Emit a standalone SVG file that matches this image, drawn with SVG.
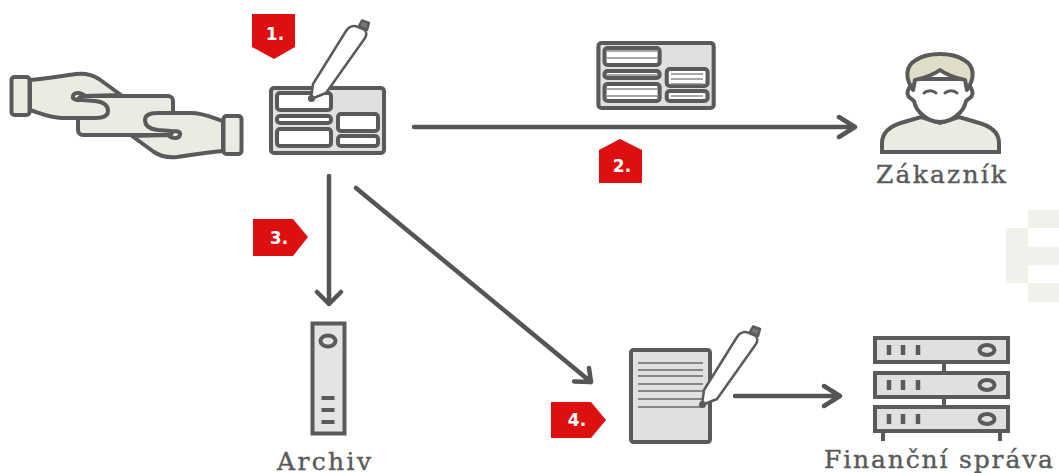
<svg xmlns="http://www.w3.org/2000/svg" xmlns:xlink="http://www.w3.org/1999/xlink" width="1059" height="473" viewBox="0 0 1059 473">
<style>
.o{stroke:#5a5a5a;stroke-width:4;stroke-linejoin:round;stroke-linecap:round}
.w{fill:#fff}.g{fill:#e0e0e0}.b{fill:#ebebe3}
.c{fill:none;stroke:#555;stroke-width:4.500;stroke-linecap:round;stroke-linejoin:round}
.l{stroke:#8a8a8a;stroke-width:1.300;fill:none}
.d{stroke:#6a6a6a;stroke-width:1.500;fill:none}
.t{font-family:"DejaVu Serif",serif;font-size:25px;fill:#5a5a5a;stroke:#5a5a5a;stroke-width:.4}
.n{font-family:"DejaVu Sans",sans-serif;font-weight:bold;font-size:17px;fill:#fff;text-anchor:middle}
.r{fill:#dd0f0f}
</style>
<defs>
<g id="form">
<rect class="o g" x="271" y="88" width="113" height="65" rx="3"/>
<rect class="o w" x="277" y="93" width="54" height="17" rx="3"/>
<rect class="o w" x="277" y="116" width="54" height="7" rx="3"/>
<rect class="o w" x="277" y="129" width="54" height="17" rx="3"/>
<rect class="o w" x="338" y="114" width="40" height="17" rx="3"/>
<rect class="o w" x="338" y="136" width="40" height="10" rx="3"/>
</g>
<g id="pen">
<path d="M311 99 L313 84 L346 31 C349 26 354 25 358 27 L363 29 C367 31 367 35 365 38 L326 93 Z" fill="#fff" stroke="#5a5a5a" stroke-width="2.500" stroke-linejoin="round"/>
<path d="M359 26 L362 20.500 L369 23 L367 30 Z" fill="#777" stroke="#5a5a5a" stroke-width="2.500" stroke-linejoin="round"/>
<circle cx="311.500" cy="98.500" r="3.500" fill="#5a5a5a"/>
</g>
<path id="hand" class="o b" d="M30 80 C45 79 60 76 76 74 C86 73 93 75 99 79 L121 95 L85 96 C81 92 74 92 73 96 C72 100 77 100 82 100 L95 101 C105 102 108 106 108 111 C108 116 103 118 95 118 L62 118 C50 118 42 114 30 110 Z"/>
<rect id="cuff" class="o b" x="11.500" y="77" width="18" height="38" rx="3"/>
<g id="unit">
<rect class="o g" style="stroke-linejoin:miter" x="875" y="338" width="133" height="24"/>
<path d="M889 345V355M903 345V355M918 345V355" fill="none" stroke="#5a5a5a" stroke-width="4.500"/>
<ellipse cx="987" cy="350" rx="7.500" ry="5" fill="none" stroke="#5a5a5a" stroke-width="4"/>
</g>
</defs>

<g id="watermark" fill="#f1f1eb">
<rect x="1028" y="210" width="31" height="18"/>
<rect x="1006" y="228" width="22" height="55"/>
<rect x="1028" y="247" width="31" height="18"/>
<rect x="1028" y="283" width="31" height="19"/>
</g>

<g id="connectors">
<path class="c" d="M414 127H855M839 117L855 127L839 137"/>
<path class="c" d="M329 176V304M317 292L329 304L341 292"/>
<path class="c" d="M356 188L591 382M589 368L591 382L574 381.500"/>
<path class="c" d="M735 396H840M824 386L840 396L824 406"/>
</g>

<g id="hands">
<rect class="o b" x="78" y="96" width="95" height="39" rx="5"/>
<use xlink:href="#hand" href="#hand"/>
<use xlink:href="#cuff" href="#cuff"/>
<use xlink:href="#hand" href="#hand" transform="rotate(180 126.500 115.500)"/>
<use xlink:href="#cuff" href="#cuff" transform="rotate(180 126.500 115.500)"/>
</g>

<g id="form-signing">
<use xlink:href="#form" href="#form"/>
<use xlink:href="#pen" href="#pen"/>
</g>

<g id="form-copy">
<use xlink:href="#form" href="#form" transform="translate(322 -45) scale(1.020 1)"/>
<path class="l" d="M607 51H658M607 58H658M607 75H658M607 89H658M607 96H658M671 74H703M671 79H703M671 84H703M671 96H703"/>
</g>

<g id="customer">
<path class="b" stroke="#5a5a5a" stroke-width="4" d="M882 152V143C882 131 893 125 904 122L921 117L940 123L959 117L976 122C988 125 999 131 999 143V152Z"/>
<path class="w" stroke="#5a5a5a" stroke-width="4" stroke-linejoin="round" d="M915 79C913 85 904 90 909 97L914 101C916 112 928 122 940 122C952 122 964 112 966 101L971 97C976 90 967 85 965 79Z"/>
<path fill="#dfddc8" stroke="#5a5a5a" stroke-width="4" stroke-linejoin="round" d="M913 90C905 78 905 66 916 60C928 52 952 52 964 60C975 66 975 78 967 90L965 80C957 78 948 76 940 70C932 76 923 78 915 80Z"/>
<path fill="none" stroke="#5a5a5a" stroke-width="3" stroke-linecap="round" d="M924 93C927 90 933 90 936 93M945 93C948 90 954 90 957 93"/>
<text class="t" x="876" y="183" textLength="130" lengthAdjust="spacing">Zákazník</text>
</g>

<g id="archive">
<rect class="o" style="stroke-linejoin:miter;fill:#e4e4e4" x="312.500" y="323.500" width="32" height="110"/>
<ellipse cx="328" cy="341" rx="7.500" ry="5.500" fill="none" stroke="#5a5a5a" stroke-width="4"/>
<path d="M321.500 398H334.500M321.500 410H334.500M321.500 422H334.500" stroke="#5a5a5a" stroke-width="4" fill="none"/>
<text class="t" x="277" y="470" textLength="94" lengthAdjust="spacing">Archiv</text>
</g>

<g id="document">
<rect class="o g" x="631" y="350" width="79" height="92" rx="2.500"/>
<path class="d" d="M638 363H703M638 370H703M638 376H703M638 384H703M638 391H703M638 399H703M638 407H703"/>
<use xlink:href="#pen" href="#pen" transform="translate(391 306)"/>
</g>

<g id="tax-office">
<path class="o" style="stroke-linecap:butt" d="M944 363V371M944 397V405M883 432V441M1000 432V441" fill="none"/>
<use xlink:href="#unit" href="#unit"/>
<use xlink:href="#unit" href="#unit" transform="translate(0 35)"/>
<use xlink:href="#unit" href="#unit" transform="translate(0 69)"/>
<text class="t" x="824" y="468" textLength="229" lengthAdjust="spacing">Finanční správa</text>
</g>

<g id="badge-1"><path class="r" d="M252 14H295V47L274 59L252 47Z"/><text class="n" x="275" y="40">1.</text></g>
<g id="badge-2"><path class="r" d="M599 183V150L620 139L642 150V183Z"/><text class="n" x="622" y="172">2.</text></g>
<g id="badge-3"><path class="r" d="M253 219H293L308 237L293 256H253Z"/><text class="n" x="279" y="244">3.</text></g>
<g id="badge-4"><path class="r" d="M551 402H591L606 420L591 438H551Z"/><text class="n" x="577" y="426">4.</text></g>
</svg>
